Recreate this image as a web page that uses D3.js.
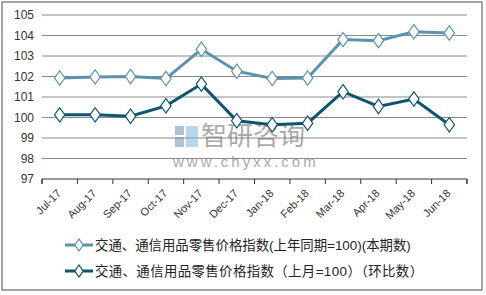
<!DOCTYPE html>
<html><head><meta charset="utf-8">
<script src="https://cdn.jsdelivr.net/npm/d3@7"></script>
<style>body{margin:0;background:#fff}svg{display:block;font-family:"Liberation Sans",Arial,"Noto Sans CJK SC",sans-serif}</style>
</head><body>
<script>
const categories = ["Jul-17","Aug-17","Sep-17","Oct-17","Nov-17","Dec-17","Jan-18","Feb-18","Mar-18","Apr-18","May-18","Jun-18"];
const yoyValues = [101.93,101.98,102.0,101.9,103.33,102.26,101.9,101.93,103.8,103.75,104.18,104.12];
const momValues = [100.13,100.13,100.06,100.57,101.63,99.84,99.65,99.72,101.26,100.54,100.9,99.65];
const yTicks = [97,98,99,100,101,102,103,104,105];
const seriesNames = ["交通、通信用品零售价格指数(上年同期=100)(本期数)","交通、通信用品零售价格指数（上月=100）（环比数）"];
const colors = ["#5b93ad","#0b5570"];

const W=486,H=295;
const svg=d3.select("body").append("svg").attr("width",W).attr("height",H);
svg.append("rect").attr("x",2).attr("y",2).attr("width",480).attr("height",288).attr("fill","#fff").attr("stroke","#888").attr("stroke-width",1.5);

const x0=42,x1=467,yTop=15,yBot=179;
const x=d3.scaleBand().domain(categories).range([x0,x1]);
const y=d3.scaleLinear().domain([97,105]).range([yBot,yTop]);

// gridlines
svg.append("g").selectAll("line").data(yTicks.slice(1)).join("line")
 .attr("x1",x0).attr("x2",x1).attr("y1",d=>y(d)).attr("y2",d=>y(d)).attr("stroke","#888").attr("stroke-width",1);

// y labels
svg.append("g").selectAll("text").data(yTicks).join("text")
 .attr("x",34).attr("y",d=>y(d)+4).attr("text-anchor","end").attr("font-size",12).attr("fill","#333").text(d=>d);

// x axis
const xAxis=d3.axisBottom(x).tickSize(5).tickFormat("");
const gx=svg.append("g").attr("transform",`translate(0,${yBot})`).call(xAxis);
gx.select(".domain").attr("stroke","#333").attr("d",`M${x0},5V0H${x1}V5`);
gx.selectAll(".tick line").remove();
gx.selectAll(".b").data(d3.range(categories.length+1)).join("line")
 .attr("x1",i=>x0+i*x.bandwidth()).attr("x2",i=>x0+i*x.bandwidth()).attr("y1",0).attr("y2",5).attr("stroke","#333");
svg.append("g").selectAll("text").data(categories).join("text")
 .attr("transform",d=>`translate(${x(d)+x.bandwidth()/2+2},${yBot+15}) rotate(-45)`)
 .attr("text-anchor","end").attr("font-size",11).attr("fill","#333").text(d=>d);

// watermark
const wm=svg.append("g").attr("opacity",0.55);
wm.append("rect").attr("x",175).attr("y",126).attr("width",9).attr("height",9).attr("fill","#6b8fb8");
wm.append("rect").attr("x",175).attr("y",137).attr("width",9).attr("height",10).attr("fill","#6b8fb8");
wm.append("rect").attr("x",186).attr("y",126).attr("width",12).attr("height",21).attr("fill","#7fb6df");
wm.append("text").attr("x",201).attr("y",145).attr("font-size",26).attr("fill","#666").attr("font-family","Noto Sans CJK SC").text("智研咨询");
wm.append("text").attr("x",173).attr("y",167).attr("font-size",15).attr("fill","#666").attr("letter-spacing",3).text("www.chyxx.com");

const cx=d=>x(d)+x.bandwidth()/2;
const line=d3.line().x((d,i)=>cx(categories[i])).y(d=>y(d));
const diamond=d3.symbol().type(d3.symbolDiamond).size(60);
[yoyValues,momValues].forEach((vals,k)=>{
  svg.append("path").datum(vals).attr("d",line).attr("fill","none").attr("stroke",colors[k]).attr("stroke-width",3);
  svg.append("g").selectAll("path").data(vals).join("path")
   .attr("transform",(d,i)=>`translate(${cx(categories[i])},${y(d)}) scale(1.25,1)`).attr("d",diamond)
   .attr("fill","#fff").attr("stroke",colors[k]).attr("stroke-width",1);
});

// legend
const lg=svg.append("g");
[245,271].forEach((ly,k)=>{
  lg.append("line").attr("x1",65).attr("x2",93).attr("y1",ly).attr("y2",ly).attr("stroke",colors[k]).attr("stroke-width",3);
  lg.append("path").attr("transform",`translate(79,${ly}) scale(1.25,1)`).attr("d",d3.symbol().type(d3.symbolDiamond).size(40)).attr("fill","#fff").attr("stroke",colors[k]);
  lg.append("text").attr("x",95).attr("y",ly+5).attr("font-size",13.4).attr("fill","#222").attr("letter-spacing",k===1?0.4:0).text(seriesNames[k]);
});
</script>
</body></html>
